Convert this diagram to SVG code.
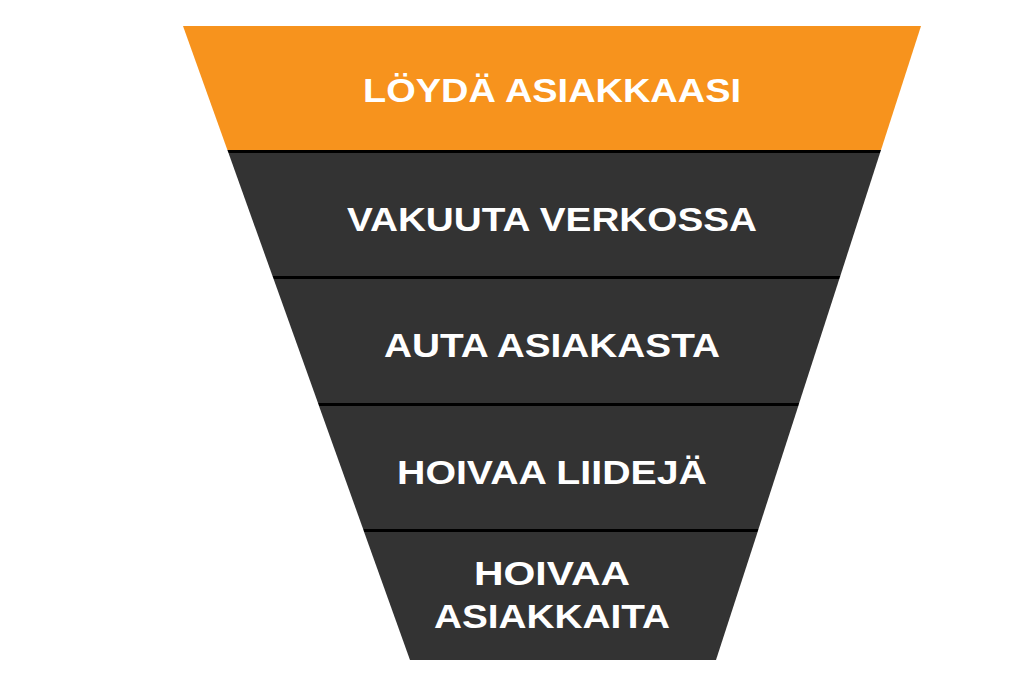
<svg xmlns="http://www.w3.org/2000/svg" width="1024" height="680" viewBox="0 0 1024 680">
<style>
.band{fill:#333333}
.sep{fill:#000}
.t{font-family:"Liberation Sans",Arial,sans-serif;font-weight:bold;font-size:34px;fill:#fff;text-anchor:middle}
</style>
<rect width="1024" height="680" fill="#fff"/>
<g id="separators">
<polygon class="sep" points="227.4,150 881,150 880,153 228.5,153"/>
<polygon class="sep" points="272.5,276 840.3,276 839.3,279 273.6,279"/>
<polygon class="sep" points="318,403 799.2,403 798.3,406 319,406"/>
<polygon class="sep" points="363.1,529 758.5,529 757.6,532 364.1,532"/>
</g>
<g id="n1"><polygon points="183,26 921,26 881,150 227.4,150" fill="#f7931d"/><text class="t" x="552" y="102" textLength="378" lengthAdjust="spacingAndGlyphs">LÖYDÄ ASIAKKAASI</text></g>
<g id="n2"><polygon class="band" points="228.5,153 880,153 840.3,276 272.5,276"/><text class="t" x="552" y="231" textLength="410" lengthAdjust="spacingAndGlyphs">VAKUUTA VERKOSSA</text></g>
<g id="n3"><polygon class="band" points="273.6,279 839.3,279 799.2,403 318,403"/><text class="t" x="552" y="357" textLength="336" lengthAdjust="spacingAndGlyphs">AUTA ASIAKASTA</text></g>
<g id="n4"><polygon class="band" points="319,406 798.3,406 758.5,529 363.1,529"/><text class="t" x="552" y="484" textLength="310" lengthAdjust="spacingAndGlyphs">HOIVAA LIIDEJÄ</text></g>
<g id="n5"><polygon class="band" points="364.1,532 757.6,532 716,660 410,660"/><text class="t" x="552" y="585" textLength="156" lengthAdjust="spacingAndGlyphs">HOIVAA</text><text class="t" x="552" y="628" textLength="236" lengthAdjust="spacingAndGlyphs">ASIAKKAITA</text></g>
</svg>
